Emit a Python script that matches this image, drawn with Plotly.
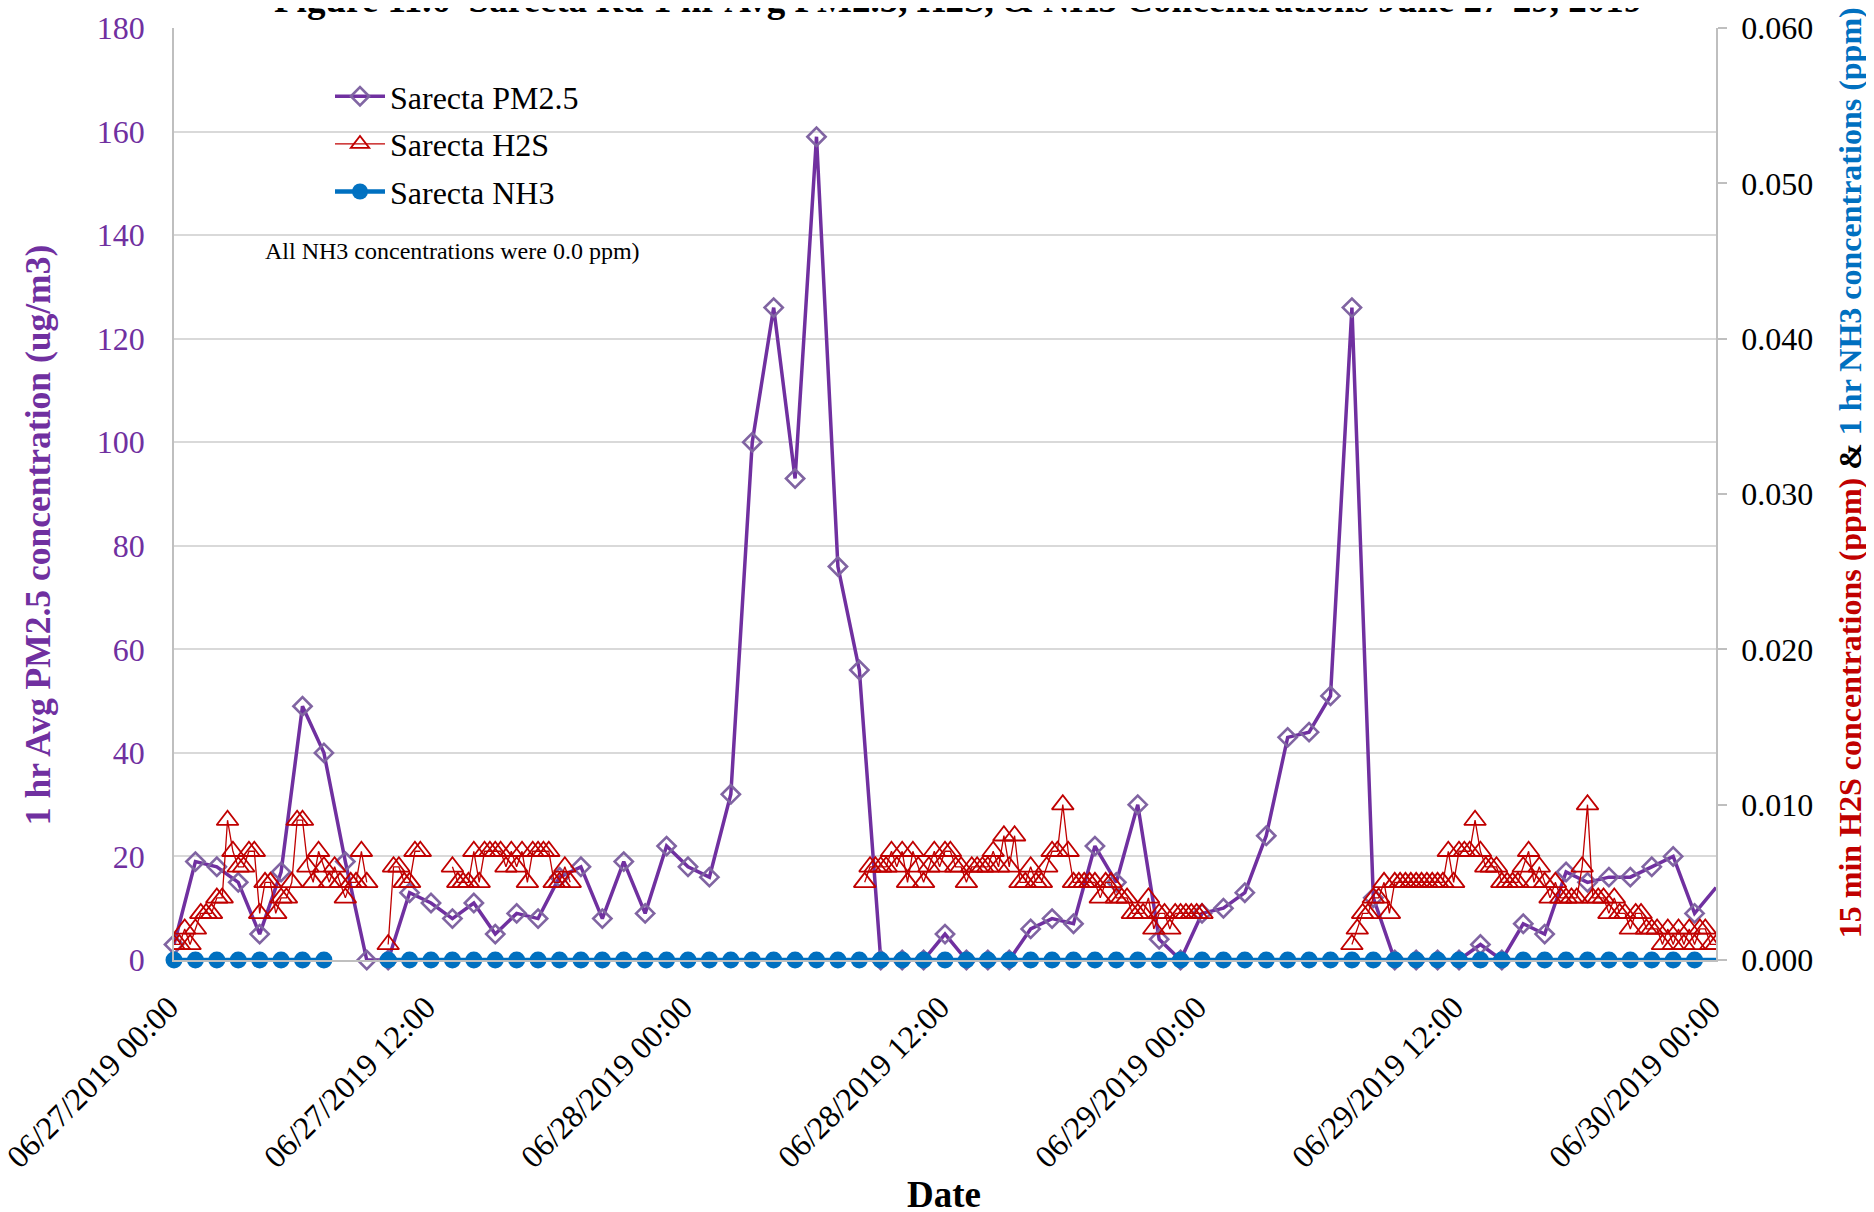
import pandas as pd
import plotly.graph_objects as go

# ----------------------------------------------------------------------------
#  DATA  (June 27-29 2019)
# ----------------------------------------------------------------------------
start_time = "2019-06-27 00:00"
end_time = "2019-06-30 00:00"

# hourly PM2.5, ug/m3, 06/27 00:00 .. 06/30 00:00
pm25 = [3, 19, 18, 15, 5, 17, 49, 40, 19, 0, 0, 13, 11, 8, 11, 5, 9, 8, 16, 18, 8, 19, 9, 22,
        18, 16, 32, 100, 126, 93, 159, 76, 56, 0, 0, 0, 5, 0, 0, 0, 6, 8, 7, 22, 15, 30, 4, 0,
        9, 10, 13, 24, 43, 44, 51, 126, 12, 0, 0, 0, 0, 3, 0, 7, 5, 17, 15, 16, 16, 18, 20, 9,
        14]

# hourly NH3, ppm (no data at 08:00 and 09:00 on 06/27)
nh3 = [0.0, 0.0, 0.0, 0.0, 0.0, 0.0, 0.0, 0.0, None, None, 0.0, 0.0, 0.0, 0.0, 0.0, 0.0,
       0.0, 0.0, 0.0, 0.0, 0.0, 0.0, 0.0, 0.0, 0.0, 0.0, 0.0, 0.0, 0.0, 0.0, 0.0, 0.0,
       0.0, 0.0, 0.0, 0.0, 0.0, 0.0, 0.0, 0.0, 0.0, 0.0, 0.0, 0.0, 0.0, 0.0, 0.0, 0.0,
       0.0, 0.0, 0.0, 0.0, 0.0, 0.0, 0.0, 0.0, 0.0, 0.0, 0.0, 0.0, 0.0, 0.0, 0.0, 0.0,
       0.0, 0.0, 0.0, 0.0, 0.0, 0.0, 0.0, 0.0, 0.0]

# 15 min H2S, ppm, in runs of valid readings
h2s_starts = ["2019-06-27 00:00", "2019-06-27 10:00", "2019-06-27 13:00",
              "2019-06-28 08:15", "2019-06-29 07:00"]
h2s_run1 = [0.001, 0.001, 0.002, 0.001, 0.002, 0.003, 0.003, 0.003, 0.004, 0.004,
            0.009, 0.007, 0.006, 0.006, 0.007, 0.007, 0.003, 0.005, 0.005, 0.003,
            0.004, 0.004, 0.005, 0.009, 0.009, 0.006, 0.005, 0.007, 0.006, 0.005,
            0.006, 0.005, 0.004, 0.005, 0.005, 0.007, 0.005]
h2s_run2 = [0.001, 0.006, 0.006, 0.005, 0.005, 0.007, 0.007]
h2s_run3 = [0.006, 0.005, 0.005, 0.005, 0.007, 0.005, 0.007, 0.007, 0.007, 0.007,
            0.006, 0.007, 0.006, 0.007, 0.005, 0.007, 0.007, 0.007, 0.007, 0.005,
            0.005, 0.006, 0.005]
h2s_run4 = [0.005, 0.006, 0.006, 0.006, 0.006, 0.007, 0.006, 0.007, 0.005, 0.007,
            0.006, 0.005, 0.006, 0.007, 0.006, 0.007, 0.007, 0.006, 0.006, 0.005,
            0.006, 0.006, 0.006, 0.006, 0.007, 0.006, 0.008, 0.006, 0.008, 0.005,
            0.005, 0.006, 0.005, 0.005, 0.006, 0.007, 0.007, 0.010, 0.007, 0.005,
            0.005, 0.005, 0.005, 0.005, 0.004, 0.005, 0.005, 0.004, 0.004, 0.004,
            0.003, 0.003, 0.003, 0.004, 0.002, 0.003, 0.003, 0.002, 0.003, 0.003,
            0.003, 0.003, 0.003, 0.003]
h2s_run5 = [0.001, 0.002, 0.003, 0.003, 0.004, 0.004, 0.005, 0.003, 0.005, 0.005,
            0.005, 0.005, 0.005, 0.005, 0.005, 0.005, 0.005, 0.005, 0.007, 0.005,
            0.007, 0.007, 0.007, 0.009, 0.007, 0.006, 0.006, 0.006, 0.005, 0.005,
            0.005, 0.005, 0.006, 0.007, 0.005, 0.006, 0.005, 0.004, 0.005, 0.004,
            0.004, 0.004, 0.004, 0.006, 0.010, 0.004, 0.004, 0.004, 0.003, 0.004,
            0.003, 0.003, 0.002, 0.003, 0.003, 0.002, 0.002, 0.002, 0.001, 0.002,
            0.001, 0.002, 0.001, 0.002, 0.001, 0.002, 0.002, 0.001, 0.001]
h2s_runs = [h2s_run1, h2s_run2, h2s_run3, h2s_run4, h2s_run5]

# ----------------------------------------------------------------------------
#  SERIES
# ----------------------------------------------------------------------------
hours = pd.date_range(start_time, end_time, freq="h")
quarters = pd.date_range(start_time, end_time, freq="15min")
h2s = pd.Series([None] * len(quarters), index=quarters, dtype=object)
for t0, run in zip(h2s_starts, h2s_runs):
    idx = pd.date_range(t0, periods=len(run), freq="15min")
    h2s.loc[idx] = run

PURPLE = "#7030A0"
RED = "#C00000"
BLUE = "#0070C0"
FONT = "Liberation Serif"

# last hourly point sits on the right border, its marker is not drawn
hour_opacity = [1] * (len(hours) - 1) + [0]

plot_data = []
plot_data.append(go.Scatter(x=quarters, y=h2s.tolist(), yaxis="y2", name="Sarecta H2S",
                            mode="lines+markers", connectgaps=False, legendrank=2,
                            legendgroup="h2s",
                            line=dict(color=RED, width=1.3),
                            marker=dict(symbol="triangle-up-open", size=19, color=RED,
                                        line=dict(width=1.8))))
plot_data.append(go.Scatter(x=hours, y=pm25, name="Sarecta PM2.5",
                            mode="lines+markers", legendrank=1, legendgroup="pm",
                            cliponaxis=False,
                            line=dict(color=PURPLE, width=3.5),
                            marker=dict(symbol="diamond-open", size=14, color="#8064A2",
                                        opacity=hour_opacity, line=dict(width=2.6))))
plot_data.append(go.Scatter(x=hours, y=nh3, yaxis="y2", name="Sarecta NH3",
                            mode="lines+markers", connectgaps=False, legendrank=3,
                            legendgroup="nh3", cliponaxis=False,
                            line=dict(color=BLUE, width=4.5),
                            marker=dict(symbol="circle", size=17, color=BLUE,
                                        opacity=hour_opacity)))

# ----------------------------------------------------------------------------
#  LAYOUT  (positions are page pixels; the page body adds an 8 px margin)
# ----------------------------------------------------------------------------
OFF = 8
W, H = 1874, 1212
L, R, T, B = 174, 1716, 27.5, 960


def px(x):
    return (x - L) / (R - L)


def py(y):
    return (B - y) / (B - T)


fig = go.Figure(data=plot_data)
fig.update_layout(
    width=W - OFF, height=H - OFF,
    margin=dict(l=L - OFF, r=W - R, t=T - OFF, b=H - B, autoexpand=False),
    paper_bgcolor="white", plot_bgcolor="white",
    font=dict(family=FONT, size=32, color="black"),
    xaxis=dict(type="date", range=[start_time, end_time], dtick=12 * 3600 * 1000,
               tick0=start_time, tickformat="%m/%d/%Y %H:%M", tickangle=-45,
               tickfont=dict(family=FONT, size=32, color="black"),
               ticklabelstandoff=14, ticklabelshift=-5, ticklabeloverflow="allow",
               showgrid=False, showline=True, linecolor="#BFBFBF", linewidth=1.5,
               zeroline=False, ticks=""),
    yaxis=dict(range=[0, 180], dtick=20, showgrid=True, gridcolor="#D9D9D9", gridwidth=1.5,
               showline=True, linecolor="#BFBFBF", linewidth=1.5, zeroline=False,
               tickfont=dict(family=FONT, size=32, color=PURPLE), ticklabelstandoff=21),
    yaxis2=dict(range=[0, 0.06], dtick=0.01, tickformat=".3f", overlaying="y", side="right",
                showgrid=False, showline=True, linecolor="#BFBFBF", linewidth=1.5,
                zeroline=False, ticks="outside", ticklen=9, tickcolor="#BFBFBF", tickwidth=1.5,
                tickfont=dict(family=FONT, size=32, color="black"), ticklabelstandoff=8),
    legend=dict(x=px(330), y=py(68.5), xanchor="left", yanchor="top",
                bgcolor="rgba(0,0,0,0)", itemwidth=50, tracegroupgap=3,
                font=dict(family=FONT, size=32, color="black")),
    showlegend=True,
)

fig.add_annotation(text="<b>Figure 11.6  Sarecta Rd 1 hr Avg PM2.5, H2S, & NH3 Concentrations June 27-29, 2019</b>",
                   xref="paper", yref="paper", x=px(958), y=py(-1), xanchor="center",
                   yanchor="middle", showarrow=False,
                   font=dict(family=FONT, size=37, color="black"))
fig.add_annotation(text="All NH3 concentrations were 0.0 ppm)", xref="paper", yref="paper",
                   x=px(263), y=py(251), xanchor="left", yanchor="middle", showarrow=False,
                   font=dict(family=FONT, size=24, color="black"))
fig.add_annotation(text="<b>1 hr Avg PM2.5 concentration (ug/m3)</b>", xref="paper", yref="paper",
                   x=px(38), y=py(535), xanchor="center", yanchor="middle", textangle=-90,
                   showarrow=False, font=dict(family=FONT, size=35.5, color=PURPLE))
fig.add_annotation(text="<b><span style='color:" + RED + "'>15 min H2S concentrations (ppm)</span> & "
                        "<span style='color:" + BLUE + "'>1 hr NH3 concentrations (ppm)</span></b>",
                   xref="paper", yref="paper", x=px(1850), y=py(472), xanchor="center",
                   yanchor="middle", textangle=-90, showarrow=False,
                   font=dict(family=FONT, size=32, color="black"))
fig.add_annotation(text="<b>Date</b>", xref="paper", yref="paper", x=px(944), y=py(1195),
                   xanchor="center", yanchor="middle", showarrow=False,
                   font=dict(family=FONT, size=37, color="black"))

fig.write_html("out.html")
